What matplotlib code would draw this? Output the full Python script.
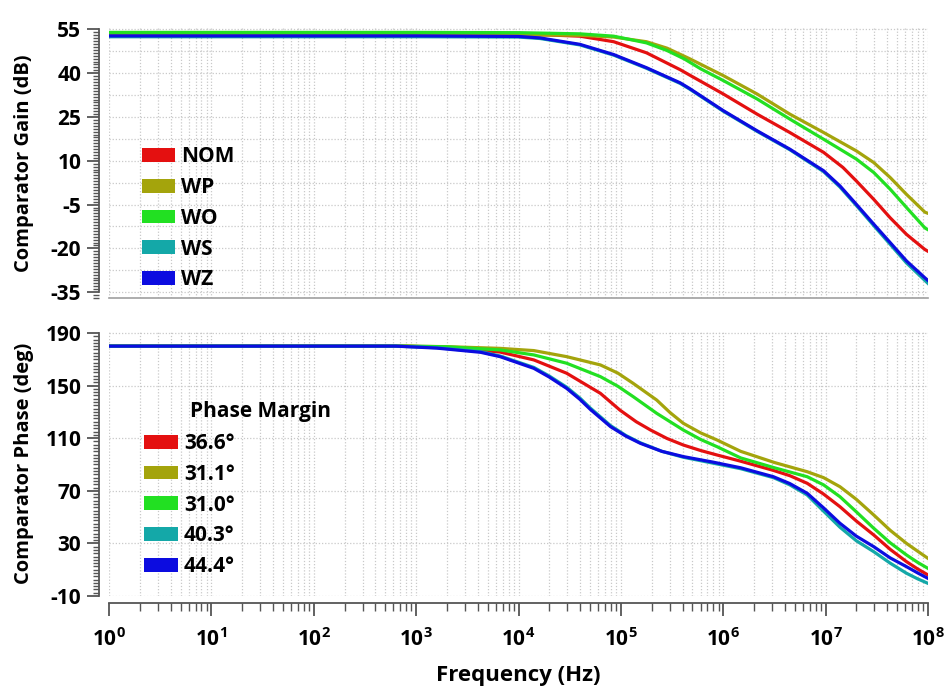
import numpy as np
import matplotlib
matplotlib.use("Agg")
import matplotlib.pyplot as plt
from matplotlib.patches import Patch
from matplotlib.ticker import LogLocator, MultipleLocator, NullFormatter, FixedLocator

# ---------------- data ----------------
series_names = ["NOM", "WP", "WO", "WS", "WZ"]
phase_margins = ["36.6\u00b0", "31.1\u00b0", "31.0\u00b0", "40.3\u00b0", "44.4\u00b0"]
colors = ["#e41010", "#a4a40c", "#22e022", "#14a8a8", "#0c0ce0"]

# gain: log10(frequency) and dB
gain_nom_logf = [0, 3, 4, 4.3, 4.6, 4.93, 5.25, 5.58, 5.67, 6.0, 6.33, 6.65, 6.98, 7.17, 7.3, 7.47, 7.63, 7.79, 7.97, 8.0]
gain_nom_db = [53.4, 53.4, 53.3, 53.1, 52.7, 50.8, 47.0, 41.2, 39.4, 32.9, 26.0, 19.7, 12.9, 7.7, 3.1, -3.2, -9.5, -15.2, -20.4, -21.0]

gain_wp_logf = [0, 3, 4.3, 4.6, 4.93, 5.25, 5.45, 5.67, 6.0, 6.33, 6.65, 6.98, 7.3, 7.47, 7.63, 7.79, 7.97, 8.0]
gain_wp_db = [53.1, 53.1, 53.1, 53.0, 52.4, 50.8, 48.6, 45.0, 39.2, 32.9, 26.0, 19.7, 13.4, 9.4, 4.3, -1.5, -7.6, -8.0]

gain_wo_logf = [0, 3, 4, 4.6, 4.93, 5.25, 5.45, 5.62, 5.78, 6.0, 6.33, 6.65, 6.98, 7.3, 7.47, 7.63, 7.79, 7.97, 8.0]
gain_wo_db = [54.0, 54.0, 53.9, 53.5, 52.7, 50.4, 47.8, 44.9, 41.5, 37.5, 31.2, 24.3, 17.4, 10.6, 6.0, 0.3, -6.0, -13.0, -13.6]

gain_ws_logf = [0, 3, 4, 4.21, 4.6, 4.93, 5.25, 5.58, 5.67, 6.0, 6.33, 6.65, 6.98, 7.14, 7.3, 7.47, 7.63, 7.79, 7.97, 8.0]
gain_ws_db = [52.5, 52.5, 52.4, 51.9, 49.7, 46.2, 41.7, 36.5, 34.6, 27.0, 20.1, 13.8, 6.3, 1.0, -5.3, -12.2, -18.6, -25.0, -31.0, -32.0]

gain_wz_logf = [0, 3, 4, 4.21, 4.6, 4.93, 5.25, 5.58, 5.67, 6.0, 6.33, 6.65, 6.98, 7.14, 7.3, 7.47, 7.63, 7.79, 7.97, 8.0]
gain_wz_db = [52.8, 52.8, 52.6, 52.1, 49.9, 46.4, 41.9, 36.7, 34.8, 27.2, 20.3, 14.0, 6.6, 1.4, -4.9, -11.7, -18.0, -24.3, -30.1, -31.0]

# phase: log10(frequency) and degrees
phase_nom_logf = [0, 2.9, 3.3, 3.82, 4.15, 4.47, 4.8, 4.99, 5.15, 5.29, 5.45, 5.61, 5.78, 5.94, 6.17, 6.49, 6.65, 6.82, 6.98, 7.14, 7.3, 7.47, 7.63, 7.79, 7.9, 8.0]
phase_nom_deg = [180, 180, 179, 175.5, 169.5, 159.4, 144.1, 131.4, 122.5, 116.2, 109.8, 104.8, 100.6, 97.2, 92.5, 85.5, 81.5, 75.7, 67.5, 57.9, 47.0, 36.4, 25.5, 16.1, 10.5, 6.0]

phase_wp_logf = [0, 2.9, 3.3, 3.82, 4.15, 4.47, 4.8, 4.97, 5.12, 5.35, 5.48, 5.61, 5.78, 5.94, 6.17, 6.5, 6.82, 6.98, 7.14, 7.3, 7.47, 7.63, 7.79, 7.9, 8.0]
phase_wp_deg = [180, 180, 179.6, 178.3, 176.6, 172.0, 165.7, 159.5, 151.7, 139.0, 129.5, 121.3, 114.0, 108.6, 100.0, 91.5, 84.5, 80.0, 73.1, 63.5, 51.6, 40.0, 30.0, 24.0, 18.6]

phase_wo_logf = [0, 2.9, 3.3, 3.82, 4.15, 4.47, 4.8, 4.97, 5.12, 5.35, 5.61, 5.78, 5.94, 6.17, 6.5, 6.82, 6.98, 7.14, 7.3, 7.47, 7.63, 7.79, 7.9, 8.0]
phase_wo_deg = [180, 180, 179.5, 177.1, 173.3, 167.0, 156.8, 149.5, 141.6, 128.9, 116.2, 109.0, 103.5, 95.0, 87.5, 80.7, 74.5, 65.5, 54.0, 41.5, 30.5, 21.2, 15.5, 11.0]

phase_ws_logf = [0, 2.8, 3.2, 3.63, 3.82, 4.15, 4.3, 4.47, 4.6, 4.7, 4.9, 5.05, 5.19, 5.4, 5.61, 5.9, 6.17, 6.49, 6.65, 6.82, 6.98, 7.14, 7.3, 7.47, 7.63, 7.79, 7.9, 8.0]
phase_ws_deg = [180, 180, 178.8, 175.8, 172.5, 163.8, 157.3, 148.8, 140.5, 133.0, 119.5, 112.0, 106.5, 100.0, 95.5, 91.0, 86.8, 80.0, 74.5, 66.8, 54.5, 42.3, 32.0, 23.7, 15.0, 7.3, 3.0, -0.4]

phase_wz_logf = [0, 2.8, 3.2, 3.63, 3.82, 4.15, 4.3, 4.47, 4.6, 4.7, 4.9, 5.05, 5.19, 5.4, 5.61, 5.9, 6.17, 6.49, 6.65, 6.82, 6.98, 7.14, 7.3, 7.47, 7.63, 7.79, 7.9, 8.0]
phase_wz_deg = [180, 180, 178.5, 175.3, 172.0, 163.1, 156.5, 147.9, 139.5, 132.0, 118.7, 111.5, 106.1, 100.0, 96.0, 91.8, 87.5, 80.7, 75.5, 68.1, 57.0, 45.3, 35.5, 27.5, 19.0, 12.3, 7.5, 3.4]

gain_yticks = [-35, -20, -5, 10, 25, 40, 55]
phase_yticks = [-10, 30, 70, 110, 150, 190]
decades = [0, 1, 2, 3, 4, 5, 6, 7, 8]

gain_logf = [gain_nom_logf, gain_wp_logf, gain_wo_logf, gain_ws_logf, gain_wz_logf]
gain_db = [gain_nom_db, gain_wp_db, gain_wo_db, gain_ws_db, gain_wz_db]
phase_logf = [phase_nom_logf, phase_wp_logf, phase_wo_logf, phase_ws_logf, phase_wz_logf]
phase_deg = [phase_nom_deg, phase_wp_deg, phase_wo_deg, phase_ws_deg, phase_wz_deg]

# ---------------- style ----------------
FONT = "Open Sans"
plt.rcParams["font.family"] = [FONT, "DejaVu Sans"]
plt.rcParams["font.weight"] = "bold"
plt.rcParams["mathtext.fontset"] = "custom"
plt.rcParams["mathtext.rm"] = f"{FONT}:bold"
plt.rcParams["mathtext.bf"] = f"{FONT}:bold"
plt.rcParams["mathtext.it"] = f"{FONT}:bold"

W, H = 946, 693
fig = plt.figure(figsize=(W / 100, H / 100), dpi=100)
fig.patch.set_facecolor("white")

def frac(left_px, top_px, right_px, bottom_px):
    return [left_px / W, 1 - bottom_px / H, (right_px - left_px) / W, (bottom_px - top_px) / H]

ax1 = fig.add_axes(frac(109, 28, 928, 298))
ax2 = fig.add_axes(frac(109, 331, 928, 596))

grid_kw = dict(color="#c9c9c9", linestyle=(0, (1, 1.5)), linewidth=0.9)
spine_col = "#555555"
tick_fs = 15
lab_fs = 14.5
leg_fs = 15

for ax in (ax1, ax2):
    ax.set_xscale("log")
    ax.set_xlim(10.0 ** decades[0], 10.0 ** decades[-1])
    ax.xaxis.set_major_locator(FixedLocator([10.0 ** d for d in decades]))
    ax.xaxis.set_minor_locator(LogLocator(base=10, subs=np.arange(2, 10), numticks=100))
    ax.xaxis.set_minor_formatter(NullFormatter())
    ax.grid(True, axis="x", which="both", **grid_kw)
    ax.grid(True, axis="y", which="major", **grid_kw)
    ax.set_axisbelow(True)
    for s in ("top", "right"):
        ax.spines[s].set_visible(False)
    ax.spines["left"].set_position(("outward", 7))
    ax.spines["left"].set_color(spine_col)
    ax.spines["left"].set_linewidth(1.3)
    ax.tick_params(axis="y", which="major", length=9, width=1.3, color=spine_col,
                   labelsize=tick_fs, pad=4)
    ax.tick_params(axis="y", which="minor", length=4.5, width=1.0, color=spine_col)

# ---- top: gain ----
for lf, db, c in zip(gain_logf, gain_db, colors):
    ax1.plot(10.0 ** np.asarray(lf), db, color=c, linewidth=2.3, solid_joinstyle="round")
ax1.set_ylim(-37.0, 55.5)
ax1.set_yticks(gain_yticks)
ax1.set_yticklabels([str(v) for v in gain_yticks], fontweight="bold")
ax1.yaxis.set_minor_locator(MultipleLocator(1))
for v in np.asarray(gain_yticks[:-1]) + 7.5:
    ax1.axhline(v, zorder=0, **grid_kw)
ax1.spines["left"].set_bounds(gain_yticks[0], gain_yticks[-1])
ax1.spines["bottom"].set_color("#a0a0a0")
ax1.spines["bottom"].set_linewidth(1.2)
ax1.tick_params(axis="x", which="both", length=0, labelbottom=False)
ax1.set_ylabel("Comparator Gain (dB)", fontsize=lab_fs, fontweight="bold")
ax1.yaxis.set_label_coords(-0.092, 0.5)

handles1 = [Patch(facecolor=c, edgecolor="none") for c in colors]
ax1.legend(handles1, series_names, loc="upper left", bbox_to_anchor=(0.040, 0.562),
           frameon=False, handlelength=1.6, handleheight=0.65,
           handletextpad=0.3, labelspacing=0.47, borderpad=0, borderaxespad=0,
           prop={"weight": "bold", "size": leg_fs})

# ---- bottom: phase ----
for lf, dg, c in zip(phase_logf, phase_deg, colors):
    ax2.plot(10.0 ** np.asarray(lf), dg, color=c, linewidth=2.3, solid_joinstyle="round")
ax2.set_ylim(-10, 191.5)
ax2.set_yticks(phase_yticks)
ax2.set_yticklabels([str(v) for v in phase_yticks], fontweight="bold")
ax2.yaxis.set_minor_locator(MultipleLocator(2.5))
ax2.spines["left"].set_bounds(phase_yticks[0], phase_yticks[-1])
ax2.spines["bottom"].set_position(("outward", 5))
ax2.spines["bottom"].set_color(spine_col)
ax2.spines["bottom"].set_linewidth(1.3)
ax2.tick_params(axis="x", which="major", length=9, width=1.3, color=spine_col,
                labelsize=tick_fs, pad=9)
ax2.tick_params(axis="x", which="minor", length=5.5, width=1.0, color=spine_col)
ax2.set_xticklabels([f"$\\mathbf{{10^{{{d}}}}}$" for d in decades])
ax2.set_ylabel("Comparator Phase (deg)", fontsize=lab_fs, fontweight="bold")
ax2.yaxis.set_label_coords(-0.092, 0.5)
ax2.set_xlabel("Frequency (Hz)", fontsize=16, fontweight="bold", labelpad=10)

handles2 = [Patch(facecolor=c, edgecolor="none") for c in colors]
ax2.legend(handles2, phase_margins, loc="upper left", bbox_to_anchor=(0.043, 0.615),
           frameon=False, handlelength=1.6, handleheight=0.65,
           handletextpad=0.3, labelspacing=0.47, borderpad=0, borderaxespad=0,
           prop={"weight": "bold", "size": leg_fs})
ax2.text(0.099, 0.698, "Phase Margin", transform=ax2.transAxes, fontsize=leg_fs,
         fontweight="bold", va="center", ha="left")

fig.savefig("out.png", dpi=100, facecolor="white")
